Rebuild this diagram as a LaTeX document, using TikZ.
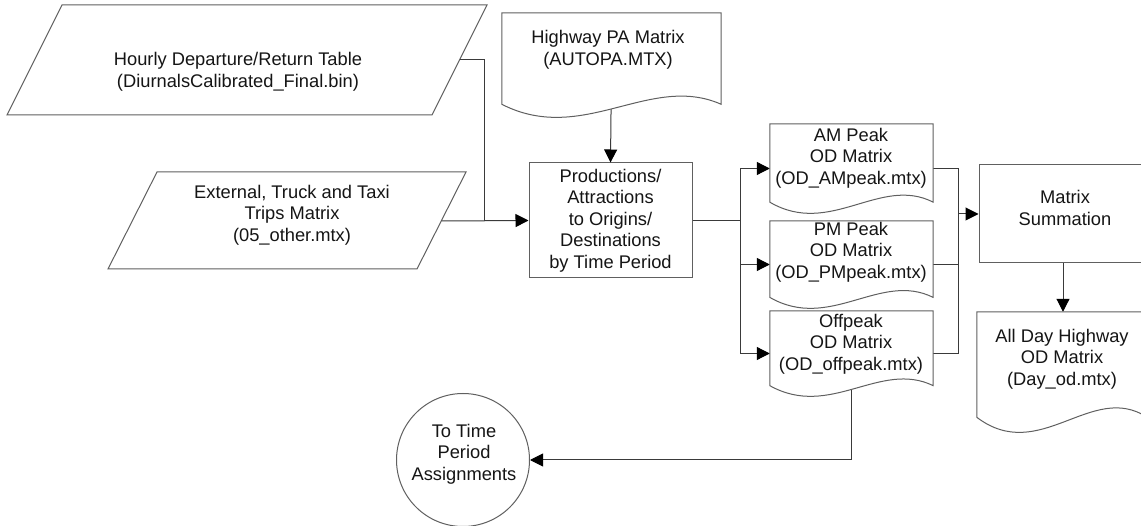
\documentclass[tikz,border=0pt]{standalone}
\usepackage{fontspec}
\setmainfont{Liberation Sans}
\usetikzlibrary{arrows.meta,calc}
\definecolor{outl}{HTML}{606060}
\definecolor{conn}{HTML}{3A3A3A}
\definecolor{txt}{HTML}{151515}
\tikzset{
  shapeline/.style={draw=outl, line width=1pt, fill=white},
  connline/.style={draw=conn, line width=1pt},
  arr/.style={connline, -{Triangle[length=13pt,width=13pt,color=black,fill=black]}},
  docbox/.style={rectangle, draw=none, inner sep=0pt},
  procbox/.style={rectangle, shapeline, inner sep=0pt, align=center, font=\lbl, text=txt},
  lbltext/.style={inner sep=0pt, align=center, font=\lbl, text=txt},
  termcirc/.style={circle, shapeline, inner sep=0pt, minimum size=133pt}
}
\newcommand\lbl{\fontsize{18.3}{21.5}\selectfont}
\newcommand\docoutline[2]{%
  \draw[shapeline] (#1.north west) -- (#1.north east) -- ($(#1.south east)+(0,-0.124*#2)$)
    .. controls ($(#1.south east)!0.325!(#1.south west)+(0,-0.428*#2)$)
    and ($(#1.south west)!0.37!(#1.south east)+(0,0.274*#2)$)
    .. ($(#1.south west)+(0,-0.124*#2)$) -- cycle;}
\begin{document}
\begin{tikzpicture}[x=1pt,y=-1pt]
\useasboundingbox (0,0) rectangle (1141,526);
\clip (0,0) rectangle (1141,526);
\fill[white] (0,0) rectangle (1141,526);

% input parallelograms
\draw[shapeline] (62,5) -- (487,5) -- (432,115) -- (7,115) -- cycle;
\coordinate (hourlyR) at (459.5,60);
\draw[shapeline] (157,172) -- (466,172) -- (417,269) -- (108,269) -- cycle;
\coordinate (extR) at (441.5,221);

% process boxes
\node[procbox, minimum width=163pt, minimum height=115pt] (p) at (610.5,220.5)
  {Productions/\\Attractions\\to Origins/\\Destinations\\by Time Period};
\node[procbox, minimum width=168pt, minimum height=98pt] (msum) at (1063,214) {};
\node[termcirc] (circ) at (463,460) {};

% documents (outlines drawn later)
\node[docbox, minimum width=219pt, minimum height=104pt] (pa) at (611.5,65) {};
\node[docbox, minimum width=163pt, minimum height=89pt] (am) at (851.5,168.5) {};
\node[docbox, minimum width=163pt, minimum height=87pt] (pm) at (851.5,264.5) {};
\node[docbox, minimum width=163pt, minimum height=85pt] (off) at (851.5,353.5) {};
\node[docbox, minimum width=170pt, minimum height=120pt] (allday) at (1062,372) {};

% junctions
\coordinate (j1) at (484,221);
\coordinate (j2) at ($(p.east)+(48,0)$);
\coordinate (j3) at (958,214);

% connectors
\draw[connline] (hourlyR) -- (hourlyR -| j1) -- (j1);
\draw[arr] (extR) -- (p.west);
\draw[arr] (pa.center) -- (p.north);
\draw[connline] (p.east) -- (j2);
\draw[arr] (j2) |- (am.west);
\draw[arr] (j2) |- (pm.west);
\draw[arr] (j2) |- (off.west);
\draw[connline] (am.east) -| (j3);
\draw[connline] (off.east) -| (j3);
\draw[connline] (pm.east) -- (pm.east -| j3);
\draw[arr] (j3) -- (msum.west);
\draw[arr] (msum.south) -- (msum.south |- allday.north);
\draw[arr] (off.center) |- (circ.east);

% document outlines
\docoutline{pa}{104}
\docoutline{am}{89}
\docoutline{pm}{87}
\docoutline{off}{85}
\docoutline{allday}{120}

% texts
\node[lbltext] (hourlyT) at (238,72) {Hourly Departure/Return Table\\(DiurnalsCalibrated\_Final.bin)};
\node[lbltext] (extT) at (292,215) {External, Truck and Taxi\\Trips Matrix\\(05\_other.mtx)};
\node[lbltext] (paT) at (608,50) {Highway PA Matrix\\(AUTOPA.MTX)};
\node[lbltext] (amT) at (851,158) {AM Peak\\OD Matrix\\(OD\_AMpeak.mtx)};
\node[lbltext] (pmT) at (851,252) {PM Peak\\OD Matrix\\(OD\_PMpeak.mtx)};
\node[lbltext] (offT) at (851,344) {Offpeak\\OD Matrix\\(OD\_offpeak.mtx)};
\node[lbltext] (msumT) at (1065,208) {Matrix\\Summation};
\node[lbltext] (alldayT) at (1062,359) {All Day Highway\\OD Matrix\\(Day\_od.mtx)};
\node[lbltext] (circT) at (464,454) {To Time\\Period\\Assignments};
\end{tikzpicture}
\end{document}
